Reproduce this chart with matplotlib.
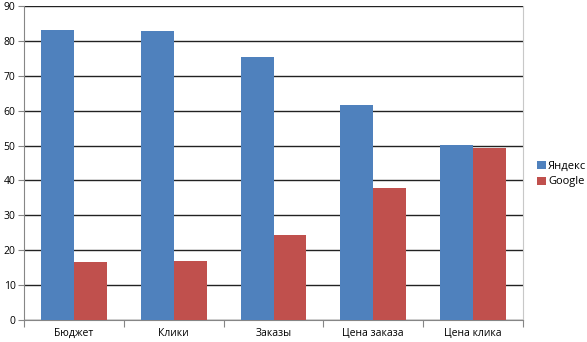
import numpy as np
import matplotlib.pyplot as plt

# Данные
categories = ['Бюджет', 'Клики', 'Заказы', 'Цена заказа', 'Цена клика']
yandex = [83.1, 82.8, 75.4, 61.6, 50.1]
google = [16.6, 16.9, 24.4, 37.8, 49.4]

plt.rcParams['font.family'] = ['Open Sans', 'DejaVu Sans']

fig = plt.figure(figsize=(5.87, 3.42), dpi=100)
ax = fig.add_axes([24 / 587, 22 / 342, 499 / 587, 314 / 342])

x = np.arange(len(categories)) + 0.5
w = 0.33
ax.bar(x - w / 2, yandex, w, color='#4F81BD', label='Яндекс', zorder=3)
ax.bar(x + w / 2, google, w, color='#C0504D', label='Google', zorder=3)

ax.set_xlim(0, len(categories))
ax.set_ylim(0, 90)
ax.set_yticks(range(0, 91, 10))
ax.yaxis.grid(True, color='#222222', linewidth=1, zorder=1)

# Метки категорий по центру, штрихи между категориями
ax.set_xticks(range(len(categories) + 1))
ax.set_xticklabels([])
ax.set_xticks(x, minor=True)
ax.set_xticklabels(categories, minor=True)
ax.tick_params(axis='x', which='minor', length=0, pad=6, labelsize=7.5)
ax.tick_params(axis='x', which='major', length=5, color='#868686')
ax.tick_params(axis='y', length=4, color='#868686', labelsize=7.5, pad=2)

ax.spines['left'].set_color('#868686')
ax.spines['bottom'].set_color('#868686')
ax.spines['right'].set_color('#c8c8c8')
ax.spines['top'].set_visible(False)

ax.legend(loc='center left', bbox_to_anchor=(1.02, 0.465), frameon=False,
          fontsize=8, handlelength=0.75, handleheight=0.75, handletextpad=0.2,
          labelspacing=0.45, borderaxespad=0)

fig.savefig('out.png', dpi=100)
